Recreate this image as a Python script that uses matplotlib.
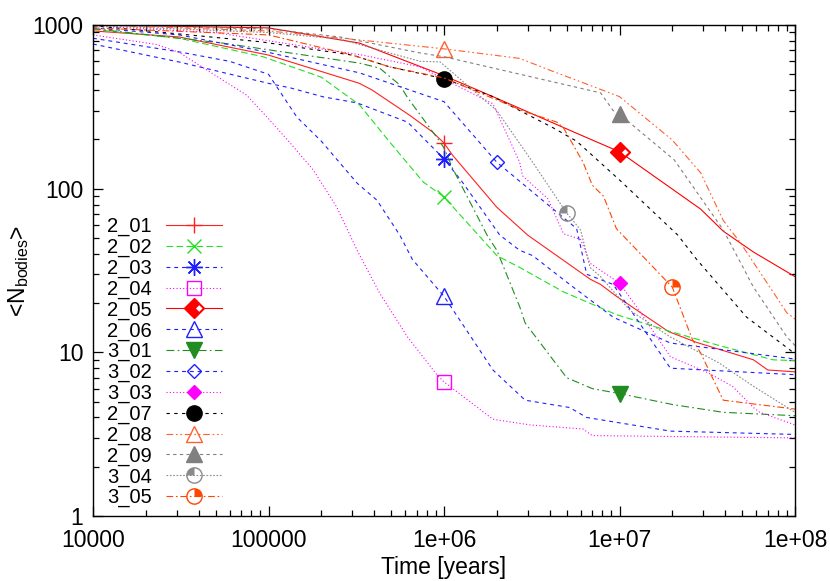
import matplotlib
matplotlib.use('Agg')
import matplotlib.pyplot as plt
from matplotlib.path import Path
from matplotlib.ticker import FixedLocator, FixedFormatter, LogLocator, NullFormatter
from matplotlib.legend_handler import HandlerTuple

plt.rcParams['font.family'] = ['Liberation Sans', 'DejaVu Sans']
plt.rcParams['mathtext.fontset'] = 'custom'
plt.rcParams['mathtext.rm'] = 'Liberation Sans'
plt.rcParams['mathtext.it'] = 'Liberation Sans:italic'

# ---------------- data ----------------
series_names = ['2_01', '2_02', '2_03', '2_04', '2_05', '2_06', '3_01', '3_02',
                '3_03', '2_07', '2_08', '2_09', '3_04', '3_05']

t_2_01 = [1e4, 3.1e4, 1e5, 3.3e5, 3.9e5, 6.4e5, 8.6e5, 1e6, 1.12e6, 2e6, 3e6, 5.7e6, 6.8e6, 7.8e6, 9.6e6, 1.9e7, 2.75e7, 5.8e7, 7e7, 1e8]
n_2_01 = [920, 845, 655, 440, 400, 280, 222, 190, 160, 77, 52, 32, 28, 26, 22, 13.4, 11.5, 9.0, 7.8, 7.6]

t_2_02 = [1e4, 3.1e4, 9.3e4, 2e5, 3.3e5, 4.9e5, 7.6e5, 1e6, 2e6, 2.7e6, 4.8e6, 9.6e6, 1.95e7, 3.7e7, 7.5e7, 1e8]
n_2_02 = [940, 830, 640, 480, 325, 193, 110, 89, 39, 33, 23.4, 17, 13.4, 11, 9.0, 8.9]

t_2_03 = [1e4, 3.1e4, 1e5, 1.33e5, 2.05e5, 3.2e5, 6.2e5, 1e6, 1.27e6, 2.08e6, 2.7e6, 3.2e6, 5.2e6, 9.2e6, 1.95e7, 1e8]
n_2_03 = [765, 594, 440, 413, 364, 334, 255, 152, 110, 52, 42, 39, 26, 16.4, 11.4, 9.1]

t_2_04 = [1e4, 2.3e4, 3.1e4, 5.5e4, 7.5e4, 9.8e4, 1.33e5, 1.8e5, 2.45e5, 3.2e5, 4.3e5, 6.2e5, 9.1e5, 1e6, 1.9e6, 3.1e6, 6.2e6, 7e6, 1e8]
n_2_04 = [870, 760, 680, 460, 373, 274, 190, 130, 77, 42, 23, 12.4, 7.3, 6.6, 3.9, 3.6, 3.4, 3.1, 3.0]

t_2_05 = [1e4, 1e5, 3.3e5, 1e6, 1.9e6, 5.7e6, 1e7, 2.9e7, 3.9e7, 5.8e7, 1e8]
n_2_05 = [1000, 960, 775, 490, 365, 218, 168, 75, 55, 41, 29]

t_2_06 = [1e4, 3.1e4, 6e4, 1e5, 1.45e5, 2e5, 3.2e5, 4.15e5, 5.6e5, 6.6e5, 1e6, 1.9e6, 2.9e6, 5.2e6, 6.5e6, 1.95e7, 1e8]
n_2_06 = [830, 685, 600, 500, 274, 195, 108, 85, 52, 37, 22, 7.8, 5.1, 4.6, 4.0, 3.3, 3.15]

t_3_01 = [1e4, 5.5e4, 3.3e5, 4.3e5, 5.6e5, 6.2e5, 9.5e5, 1e6, 1.12e6, 1.76e6, 2e6, 2.7e6, 2.9e6, 5e6, 7e6, 1e7, 2e7, 3.9e7, 1e8]
n_3_01 = [950, 775, 585, 545, 430, 360, 193, 177, 133, 52, 42, 19, 15.1, 7.0, 6.0, 5.6, 4.8, 4.3, 4.1]

t_3_02 = [1e4, 3.1e4, 1e5, 3.3e5, 1e6, 2e6, 5.7e6, 6.5e6, 9.2e6, 1.43e7, 1.95e7, 1e8]
n_3_02 = [960, 870, 680, 510, 340, 145, 57, 30, 26, 13, 8, 7.3]

t_3_03 = [1e4, 5e4, 1.6e5, 3.3e5, 7.3e5, 9.5e5, 1.9e6, 2.7e6, 2.8e6, 3.9e6, 4.8e6, 6e6, 6.8e6, 1e7, 1.25e7, 1.95e7, 3.2e7, 4.4e7, 5.8e7, 6.3e7, 1e8]
n_3_03 = [985, 900, 740, 660, 555, 480, 330, 145, 120, 87, 53, 49, 35, 26.5, 19, 9.4, 7.5, 6.2, 4.6, 4.3, 3.6]

t_2_07 = [1e4, 9e4, 3e5, 4.9e5, 1e6, 1.9e6, 4.2e6, 5.7e6, 1e7, 2.15e7, 2.75e7, 5.3e7, 1e8]
n_2_07 = [990, 790, 655, 555, 470, 365, 235, 195, 113, 52, 37, 16.4, 9.8]

t_2_08 = [1e4, 1e5, 3.3e5, 1e6, 2.7e6, 4e6, 6e6, 1e7, 2e7, 2.9e7, 3.9e7, 4.9e7, 9e7, 1e8]
n_2_08 = [1000, 920, 810, 715, 625, 530, 450, 365, 198, 125, 64, 46.5, 17.4, 16]

t_2_09 = [1e4, 1e5, 2.55e5, 7.3e5, 1e6, 7.8e6, 9.2e6, 1e7, 2.05e7, 3.9e7, 5.8e7, 9e7, 1e8]
n_2_09 = [1000, 945, 845, 675, 640, 385, 300, 285, 150, 56, 25, 12.4, 11]

t_3_04 = [1e4, 1e5, 2.55e5, 7.3e5, 9.5e5, 2e6, 3.2e6, 5e6, 6e6, 6.8e6, 7.8e6, 1.15e7, 1.95e7, 3.7e7, 5.8e7, 1e8]
n_3_04 = [990, 900, 820, 600, 595, 300, 145, 71, 56, 33, 29, 18, 12.4, 8.6, 6.2, 4.3]

t_3_05 = [1e4, 1e5, 3e5, 4.9e5, 1e6, 2.9e6, 4.4e6, 4.8e6, 6.2e6, 7e6, 8.1e6, 9.6e6, 2e7, 2.6e7, 2.9e7, 3.9e7, 1e8]
n_3_05 = [960, 870, 655, 555, 475, 295, 255, 235, 145, 105, 90, 57, 25, 12, 9.9, 5.1, 4.5]

marker_times = {'2_01': 1e6, '2_02': 1e6, '2_03': 1e6, '2_04': 1e6, '2_05': 1e7,
                '2_06': 1e6, '3_01': 1e7, '3_02': 2e6, '3_03': 1e7, '2_07': 1e6,
                '2_08': 1e6, '2_09': 1e7, '3_04': 5e6, '3_05': 2e7}

x_ticks = [1e4, 1e5, 1e6, 1e7, 1e8]
x_tick_labels = ['10000', '100000', '1e+06', '1e+07', '1e+08']
y_ticks = [1, 10, 100, 1000]
y_tick_labels = ['1', '10', '100', '1000']

data = {
    '2_01': (t_2_01, n_2_01), '2_02': (t_2_02, n_2_02), '2_03': (t_2_03, n_2_03),
    '2_04': (t_2_04, n_2_04), '2_05': (t_2_05, n_2_05), '2_06': (t_2_06, n_2_06),
    '3_01': (t_3_01, n_3_01), '3_02': (t_3_02, n_3_02), '3_03': (t_3_03, n_3_03),
    '2_07': (t_2_07, n_2_07), '2_08': (t_2_08, n_2_08), '2_09': (t_2_09, n_2_09),
    '3_04': (t_3_04, n_3_04), '3_05': (t_3_05, n_3_05),
}

# ---------------- styles ----------------
asterisk = (8, 2, 0)
inner_diamond = Path([(1, 1), (0.78, 0), (0.46, 0.32), (0.14, 0), (0.46, -0.32), (0.78, 0)],
                     [Path.MOVETO, Path.MOVETO, Path.LINETO, Path.LINETO, Path.LINETO, Path.CLOSEPOLY])
wedge_tl = Path.wedge(90, 180)
wedge_tr = Path.wedge(0, 90)

styles = {
    '2_01': dict(color='#ff2020', ls='-', marker='+', ms=12, mfc='#ff2020'),
    '2_02': dict(color='#22e022', ls=(0, (6, 3)), marker='x', ms=10, mfc='#22e022'),
    '2_03': dict(color='#2020ff', ls=(0, (3.5, 3.5)), marker=asterisk, ms=12, mfc='#2020ff'),
    '2_04': dict(color='#ff00ff', ls=(0, (1, 2)), marker='s', ms=10, mfc='none'),
    '2_05': dict(color='#ff0000', ls='-', marker='D', ms=10.5, mfc='#ff0000'),
    '2_06': dict(color='#2020ff', ls=(0, (3.5, 3.5)), marker='^', ms=11, mfc='none'),
    '3_01': dict(color='#228b22', ls=(0, (7, 3, 1.5, 3)), marker='v', ms=11, mfc='#228b22'),
    '3_02': dict(color='#2020ff', ls=(0, (3.5, 3.5)), marker='D', ms=7.5, mfc='none'),
    '3_03': dict(color='#ff00ff', ls=(0, (1, 2)), marker='D', ms=7.5, mfc='#ff00ff'),
    '2_07': dict(color='#000000', ls=(0, (3, 4)), marker='o', ms=11, mfc='#000000'),
    '2_08': dict(color='#ff6030', ls=(0, (6, 2.5, 1.5, 2.5, 1.5, 2.5)), marker='^', ms=11, mfc='none'),
    '2_09': dict(color='#808080', ls=(0, (3, 3)), marker='^', ms=11, mfc='#808080'),
    '3_04': dict(color='#8a8a8a', ls=(0, (1.5, 1.5)), marker='o', ms=11, mfc='none'),
    '3_05': dict(color='#ff4500', ls=(0, (6, 2.5, 1.5, 2.5)), marker='o', ms=11, mfc='none'),
}
overlays = {
    '2_05': dict(marker=inner_diamond, ms=10.5 * 1.414, mfc='white', mec='none'),
    '3_04': dict(marker=wedge_tl, ms=11, mfc='#8a8a8a', mec='none'),
    '3_05': dict(marker=wedge_tr, ms=11, mfc='#ff4500', mec='none'),
}

fig = plt.figure(figsize=(8.30, 5.81), dpi=100)
ax = fig.add_axes([93 / 830, 65 / 581, 702 / 830, 491 / 581])
ax.set_xscale('log')
ax.set_yscale('log')

handles = []
for name in series_names:
    t, n = data[name]
    st = styles[name]
    idx = t.index(marker_times[name])
    line, = ax.plot(t, n, color=st['color'], ls=st['ls'], lw=0.8,
                    marker=st['marker'], ms=st['ms'], mfc=st['mfc'],
                    mec=st['color'], mew=1.0, markevery=[idx])
    if name in overlays:
        ov = overlays[name]
        ol, = ax.plot(t, n, ls='none', marker=ov['marker'], ms=ov['ms'],
                      mfc=ov['mfc'], mec=ov['mec'], markevery=[idx])
        handles.append((line, ol))
    else:
        handles.append(line)

ax.set_xlim(1e4, 1e8)
ax.set_ylim(1, 1000)
ax.xaxis.set_major_locator(FixedLocator(x_ticks))
ax.xaxis.set_major_formatter(FixedFormatter(x_tick_labels))
ax.yaxis.set_major_locator(FixedLocator(y_ticks))
ax.yaxis.set_major_formatter(FixedFormatter(y_tick_labels))
ax.xaxis.set_minor_locator(LogLocator(base=10, subs=range(2, 10)))
ax.yaxis.set_minor_locator(LogLocator(base=10, subs=range(2, 10)))
ax.xaxis.set_minor_formatter(NullFormatter())
ax.yaxis.set_minor_formatter(NullFormatter())
ax.tick_params(which='both', direction='in', top=True, right=True, width=0.9)
ax.tick_params(which='major', length=7, labelsize=16.5)
ax.tick_params(axis='x', which='major', pad=9.5)
ax.tick_params(axis='y', which='major', pad=7)
ax.tick_params(which='minor', length=4)
for s in ax.spines.values():
    s.set_linewidth(1.0)

ax.set_xlabel('Time [years]', fontsize=16.5, labelpad=3)
ax.set_ylabel(r'<N$_\mathregular{bodies}$>', fontsize=16.5, labelpad=1)

leg = ax.legend(handles, series_names, loc='upper left', bbox_to_anchor=(0.02, 0.609),
                frameon=False, markerfirst=False, numpoints=1, fontsize=14.5,
                handlelength=2.8, handletextpad=0.7, labelspacing=0.08,
                borderpad=0, borderaxespad=0, handler_map={tuple: HandlerTuple(ndivide=1)})

fig.savefig('out.png', dpi=100)
